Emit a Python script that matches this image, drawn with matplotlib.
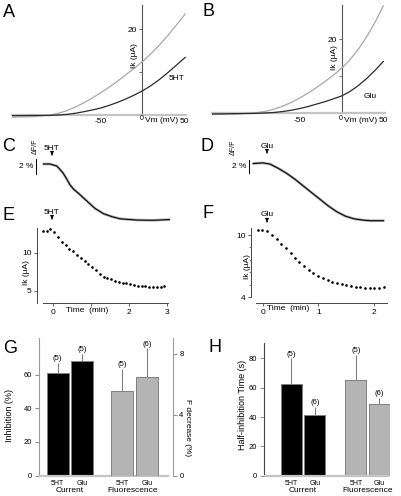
import matplotlib
matplotlib.use('Agg')
import matplotlib.pyplot as plt

plt.rcParams['font.family'] = ['Liberation Sans', 'DejaVu Sans']

W, H = 401, 496

# A / B : I-V curves (mV, uA)
vm_a = [-155, -130, -110, -100, -90, -80, -70, -60, -50, -40, -30, -20, -10, 0, 10, 20, 30, 40, 51]
ik_ctrl_a = [-0.5, -0.4, 0.0, 0.4, 1.0, 1.8, 2.8, 3.9, 5.1, 6.4, 7.8, 9.3, 10.8, 12.4, 14.2, 16.2, 18.4, 20.8, 23.5]
ik_5ht_a = [-0.15, -0.1, -0.1, 0.0, 0.15, 0.4, 0.75, 1.15, 1.6, 2.2, 2.9, 3.7, 4.6, 5.6, 6.8, 8.2, 9.8, 11.5, 13.4]

vm_b = [-156, -130, -110, -100, -90, -80, -70, -60, -50, -40, -30, -20, -10, 0, 10, 20, 30, 40, 50]
ik_ctrl_b = [-0.27, -0.2, 0.0, 0.25, 0.6, 1.2, 2.0, 3.0, 4.2, 5.5, 7.0, 8.6, 10.3, 12.2, 14.5, 17.3, 20.7, 24.6, 29.0]
ik_glu_b = [-0.2, -0.1, -0.05, 0.0, 0.1, 0.25, 0.5, 0.85, 1.3, 1.85, 2.5, 3.15, 3.9, 4.7, 5.9, 7.5, 9.4, 11.6, 14.0]

# C / D : fluorescence traces (min, dF/F %)
t_c = [-0.25, -0.08, 0.1, 0.18, 0.27, 0.36, 0.45, 0.55, 0.67, 0.89, 1.1, 1.32, 1.54, 1.76, 2.2, 2.64, 3.1]
df_c = [0, 0, -0.27, -0.7, -1.24, -2.0, -2.8, -3.4, -3.9, -4.93, -5.9, -6.6, -7.0, -7.3, -7.47, -7.5, -7.4]
t_d = [-0.17, 0.0, 0.13, 0.28, 0.43, 0.58, 0.73, 0.88, 1.03, 1.18, 1.33, 1.48, 1.63, 1.78, 1.93, 2.17]
df_d = [0, 0.1, -0.08, -0.74, -1.51, -2.43, -3.46, -4.49, -5.51, -6.54, -7.42, -8.08, -8.49, -8.69, -8.8, -8.8]

# E / F : current time course (min, uA)
t_e = [-0.27, -0.17, -0.07, 0.03, 0.13, 0.23, 0.33, 0.43, 0.53, 0.63, 0.73, 0.83, 0.93, 1.03, 1.13,
       1.23, 1.33, 1.43, 1.53, 1.63, 1.73, 1.83, 1.93, 2.03, 2.13, 2.23, 2.33, 2.43, 2.53, 2.63,
       2.73, 2.83, 2.93]
ik_e = [12.9, 12.9, 13.2, 12.7, 12.1, 11.5, 11.0, 10.5, 10.2, 9.7, 9.4, 9.0, 8.5, 8.1, 7.8,
        7.3, 6.9, 6.75, 6.55, 6.35, 6.2, 6.1, 6.0, 5.9, 5.75, 5.7, 5.65, 5.6, 5.55, 5.5,
        5.5, 5.55, 5.65]
t_f = [-0.09, -0.01, 0.08, 0.16, 0.25, 0.33, 0.41, 0.5, 0.58, 0.66, 0.75, 0.83, 0.91, 1.0,
       1.08, 1.17, 1.25, 1.33, 1.42, 1.5, 1.58, 1.67, 1.75, 1.83, 1.92, 2.0, 2.08, 2.17]
ik_f = [10.48, 10.48, 10.39, 10.0, 9.61, 9.16, 8.71, 8.23, 7.8, 7.35, 7.0, 6.64, 6.32, 6.06,
        5.87, 5.64, 5.48, 5.35, 5.23, 5.16, 5.06, 5.0, 4.94, 4.9, 4.87, 4.87, 4.9, 4.97]

# G : inhibition (%) and F decrease (%)
groups = ['5HT', 'Glu']
inhib = [60.9, 67.9]
inhib_err = [6.2, 4.5]
inhib_n = ['(5)', '(5)']
fdec = [5.56, 6.46]
fdec_err = [1.45, 1.9]
fdec_n = ['(5)', '(6)']

# H : half-inhibition time (s)
half_cur = [62.3, 41.4]
half_cur_err = [17.7, 5.6]
half_flu = [65.2, 48.7]
half_flu_err = [17.1, 4.5]
half_cur_n = ['(5)', '(6)']
half_flu_n = ['(5)', '(6)']

fig = plt.figure(figsize=(W / 100, H / 100), dpi=100)


def box(x0, y0, x1, y1):
    return fig.add_axes([x0 / W, 1 - y1 / H, (x1 - x0) / W, (y1 - y0) / H])


def label(x, y, s, size=6, **kw):
    kw.setdefault('ha', 'center')
    kw.setdefault('va', 'center')
    fig.text(x / W, 1 - y / H, s, fontsize=size, **kw)


def arrow(ax, x, y, s):
    label(x, y, s, size=6)
    ax.annotate('', xy=(x, H - y - 10), xytext=(x, H - y - 4), xycoords='figure pixels',
                textcoords='figure pixels', annotation_clip=False,
                arrowprops=dict(arrowstyle='-|>', color='k', lw=0.7, mutation_scale=5))


def iv_panel(box_px, vm, ctrl, drug, xlim, ylim, name, name_xy, ylab_xy, zero_xy):
    ax = box(*box_px)
    ax.plot(vm, ctrl, color='#a8a8a8', lw=0.9, zorder=3)
    ax.plot(vm, drug, color='#2a2a2a', lw=0.9, zorder=3)
    ax.set_xlim(*xlim)
    ax.set_ylim(*ylim)
    for s in ['top', 'right']:
        ax.spines[s].set_visible(False)
    ax.spines['left'].set_position(('data', 0))
    ax.spines['bottom'].set_position(('data', 0))
    ax.spines['left'].set_bounds(0, ylim[1])
    ax.spines['left'].set_color('#555555')
    ax.spines['left'].set_linewidth(0.8)
    ax.spines['bottom'].set_color('#c4c4c4')
    ax.spines['bottom'].set_linewidth(1.6)
    ax.set_xticks([-50, 50])
    ax.set_xticklabels(['-50', '50'])
    ax.set_yticks([10, 20])
    ax.set_yticklabels(['', '20'])
    ax.tick_params(axis='x', length=0, pad=2.5, labelsize=6)
    ax.tick_params(axis='y', length=2.5, width=0.6, pad=1, labelsize=6, color='#555555')
    ax.patch.set_alpha(0)
    label(*name_xy, name, size=6)
    label(*ylab_xy, 'Ik (µA)', size=6, rotation=90)
    label(zero_xy[0], zero_xy[1], '0', size=5)
    label(zero_xy[0] + 20, zero_xy[1] + 3, 'Vm (mV)', size=6)
    return ax


iv_panel((12, 5, 186, 120), vm_a, ik_ctrl_a, ik_5ht_a, (-155, 52), (-1.16, 25.6),
         '5HT', (177, 79), (135, 56), (142, 118))
iv_panel((212, 5, 385, 118), vm_b, ik_ctrl_b, ik_glu_b, (-155.7, 52), (-1.27, 29.27),
         'Glu', (370, 97), (335, 58), (341, 118))


def trace_panel(box_px, t, df, xlim, ylim, bar_x, bar_y):
    ax = box(*box_px)
    ax.plot(t, df, color='#9a9a9a', lw=1.8, solid_capstyle='round')
    ax.plot(t, df, color='k', lw=0.7)
    ax.plot([bar_x, bar_x], bar_y, color='k', lw=0.7, clip_on=False)
    ax.set_xlim(*xlim)
    ax.set_ylim(*ylim)
    ax.axis('off')
    return ax


axc = trace_panel((37, 140, 170, 225), t_c, df_c, (-0.421, 3.079), (-8.13, 3.2), -0.44, [0.67, -1.33])
label(26, 166, '2 %', size=6)
label(35, 146, 'ΔF/F', size=5, rotation=90)
arrow(axc, 52, 148, '5HT')

axd = trace_panel((250, 140, 390, 225), t_d, df_d, (-0.228, 2.285), (-9.46, 3.62), -0.24, [0.54, -1.46])
label(239, 167, '2 %', size=6)
label(233, 147, 'ΔF/F', size=5, rotation=90)
arrow(axd, 267, 146, 'Glu')


def time_panel(box_px, t, ik, xlim, ylim, xb, yb):
    ax = box(*box_px)
    ax.plot(t, ik, 'o', color='k', ms=1.9, mew=0, clip_on=False)
    ax.set_xlim(*xlim)
    ax.set_ylim(*ylim)
    for s in ['top', 'right']:
        ax.spines[s].set_visible(False)
    ax.spines['bottom'].set_bounds(*xb)
    ax.spines['left'].set_bounds(*yb)
    for s in ['left', 'bottom']:
        ax.spines[s].set_linewidth(0.7)
        ax.spines[s].set_color('#444444')
    ax.tick_params(length=2.5, width=0.6, pad=1.5, labelsize=6, color='#444444')
    ax.patch.set_alpha(0)
    return ax


axe = time_panel((37, 228, 170, 303), t_e, ik_e, (-0.421, 3.079), (3.42, 13.29), (-0.26, 3.03), (3.42, 13.29))
axe.set_xticks([0, 1, 2, 3])
axe.set_xticklabels(['0', '', '2', '3'])
axe.set_yticks([5, 10])
label(87, 311, 'Time  (min)', size=6)
label(27, 273, 'Ik (µA)', size=6, rotation=90)
arrow(axe, 52, 212, '5HT')

axf = time_panel((251, 228, 390, 303), t_f, ik_f, (-0.21, 2.285), (3.42, 10.68), (-0.12, 2.23), (4, 10.68))
axf.set_xticks([0, 1, 2])
axf.set_yticks([4, 10])
axf.set_yticks([5.2, 6.4, 7.6, 8.8], minor=True)
axf.tick_params(which='minor', length=1.5, width=0.5, color='#444444')
label(288, 309, 'Time  (min)', size=6)
label(247, 267, 'Ik (µA)', size=6, rotation=90)
arrow(axf, 267, 215, 'Glu')


def bar_style(ax, xb):
    for s in ['top', 'right']:
        ax.spines[s].set_visible(False)
    ax.spines['left'].set_color('#9a9a9a')
    ax.spines['left'].set_linewidth(0.8)
    ax.spines['bottom'].set_color('#c4c4c4')
    ax.spines['bottom'].set_linewidth(1.6)
    ax.spines['bottom'].set_bounds(*xb)
    ax.tick_params(axis='y', length=3, width=0.6, pad=2, labelsize=5.5, color='#777777')
    ax.tick_params(axis='x', length=0, pad=3, labelsize=5)


def bars(ax, pos, vals, errs, ns, face, edge):
    ax.bar(pos, vals, width=0.9, color=face, edgecolor=edge, lw=0.7, zorder=2)
    ax.errorbar(pos, vals, yerr=[[0] * len(errs), errs], fmt='none', ecolor=edge,
                elinewidth=0.8, capsize=0, zorder=1)
    for p, v, e, n in zip(pos, vals, errs, ns):
        ax.annotate(n, (p, v + e), xytext=(0, 0.5), textcoords='offset points',
                    ha='center', va='bottom', fontsize=5.5)


# G
pos_cur = [0, 1]
pos_flu = [2.63, 3.63]
axg = box(39, 338, 173, 475.5)
axg.set_xlim(-0.76, 4.69)
axg.set_ylim(0, 81.8)
bars(axg, pos_cur, inhib, inhib_err, inhib_n, 'k', '#808080')
bar_style(axg, (-0.72, 4.48))
axg.set_yticks([0, 20, 40, 60])
axg.set_xticks(pos_cur + pos_flu)
axg.set_xticklabels(groups + groups)
axg2 = axg.twinx()
axg2.set_ylim(0, 9.05)
bars(axg2, pos_flu, fdec, fdec_err, fdec_n, '#b4b4b4', '#808080')
for s in ['top', 'left', 'bottom']:
    axg2.spines[s].set_visible(False)
axg2.spines['right'].set_color('#9a9a9a')
axg2.spines['right'].set_linewidth(0.8)
axg2.set_yticks([0, 4, 8])
axg2.tick_params(axis='y', length=3, width=0.6, pad=1.5, labelsize=5.5, color='#777777')
label(10, 415, 'Inhibition (%)', size=6.5, rotation=90)
label(188, 428, 'F decrease (%)', size=6, rotation=270)
label(70, 491, 'Current', size=6)
label(133, 491, 'Fluorescence', size=6)

# H
pos_cur_h = [0, 1]
pos_flu_h = [2.75, 3.75]
axh = box(264, 343.3, 390, 475.7)
axh.set_xlim(-1.16, 4.2)
axh.set_ylim(0, 90.3)
bars(axh, pos_cur_h, half_cur, half_cur_err, half_cur_n, 'k', '#808080')
bars(axh, pos_flu_h, half_flu, half_flu_err, half_flu_n, '#b4b4b4', '#808080')
bar_style(axh, (-1.11, 4.12))
axh.spines['left'].set_color('#444444')
axh.set_yticks([0, 20, 40, 60, 80])
axh.set_xticks(pos_cur_h + pos_flu_h)
axh.set_xticklabels(groups + groups)
label(242, 405, 'Half-inhibition Time (s)', size=6.5, rotation=90)
label(303, 491, 'Current', size=6)
label(368, 491, 'Fluorescence', size=6)

# panel letters
for s, x, y in [('A', 9, 12.5), ('B', 209, 12), ('C', 8.5, 146.5), ('D', 207.5, 146),
                ('E', 9, 216), ('F', 207.5, 214), ('G', 10, 348.5), ('H', 215.5, 347.5)]:
    label(x, y, s, size=13)

fig.savefig('out.png', dpi=100)
